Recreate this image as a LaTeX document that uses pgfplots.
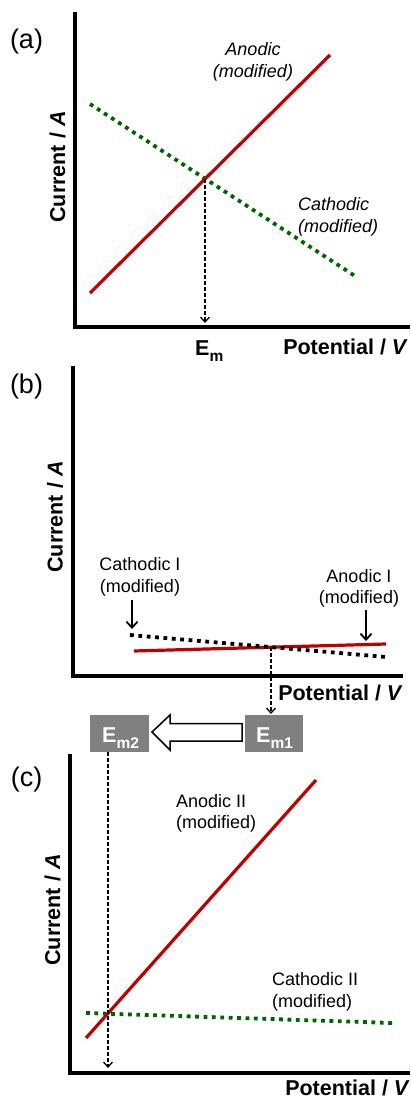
\documentclass[border=0pt]{standalone}
\usepackage{pgfplots}
\pgfplotsset{compat=1.18}
\usepackage{fontspec}
\setmainfont{Liberation Sans}
\usetikzlibrary{arrows.meta}
\definecolor{cred}{HTML}{C00000}
\definecolor{cgreen}{HTML}{006400}
\definecolor{boxgray}{HTML}{808080}
\newcommand\lab{\fontsize{18}{22}\selectfont}
\newcommand\boldlab{\fontsize{21.5}{26}\selectfont\bfseries}
\newcommand\pan{\fontsize{27}{30}\selectfont}
\newcommand\sub[1]{\raisebox{-0.3em}{\fontsize{15.5}{16}\selectfont #1}}
\tikzset{
  sqdots/.style={line width=3.8pt, dash pattern=on 3.8pt off 4.6pt},
  dropline/.style={line width=1.3pt, dash pattern=on 4pt off 2pt,
    -{Straight Barb[length=5pt,width=9pt,line width=1.3pt]}},
  callout/.style={line width=1.8pt, -{Straight Barb[length=6pt,width=11pt,line width=1.8pt]}},
}
\pgfplotsset{
  schem/.style={x=1pt, y=1pt, xmin=0, ymin=0, axis lines*=left,
    axis line style={line width=3.8pt, line cap=rect, -}, xtick=\empty, ytick=\empty,
    clip=false, anchor=origin},
}
\begin{document}
\begin{tikzpicture}
\path[use as bounding box] (0pt,0pt) rectangle (411pt,-1100pt);
% ---------------- (a)
\begin{axis}[schem, at={(75pt,-327pt)}, xmax=333, ymax=313]
  \addplot[cgreen, sqdots] coordinates {(15,223) (280,51)};
  \addplot[cred, line width=3.2pt] coordinates {(15,34) (255,272)};
  \draw[dropline] (axis cs:130,148) -- (axis cs:130,4);
\end{axis}
% ---------------- (b)
\begin{axis}[schem, at={(73pt,-676pt)}, xmax=328, ymax=308]
  \addplot[cred, line width=3.2pt] coordinates {(61,25) (313,32)};
  \addplot[black, sqdots] coordinates {(57,41) (313,19)};
  \draw[dropline] (axis cs:198,29) -- (axis cs:198,-38);
  \draw[callout] (axis cs:59,76) -- (axis cs:59,47);
  \draw[callout] (axis cs:293,66) -- (axis cs:293,35);
\end{axis}
% ---------------- (c)
\begin{axis}[schem, at={(70pt,-1073pt)}, xmax=338, ymax=317]
  \addplot[cgreen, sqdots] coordinates {(16,60) (323,50)};
  \addplot[cred, line width=3.2pt] coordinates {(16,35) (246,293)};
  \draw[dropline] (axis cs:38,321) -- (axis cs:38,5);
\end{axis}
% ---------------- boxes and hollow arrow
\fill[boxgray] (90pt,-715pt) rectangle (149pt,-752pt);
\fill[boxgray] (245pt,-715pt) rectangle (303pt,-752pt);
\node[anchor=base west, inner sep=0pt, text=white, font=\boldlab] at (102pt,-742pt) {E\sub{m2}};
\node[anchor=base west, inner sep=0pt, text=white, font=\boldlab] at (256pt,-742pt) {E\sub{m1}};
\draw[line width=1.5pt, fill=white, line join=miter]
  (152pt,-732pt) -- (170pt,-715pt) -- (170pt,-723.5pt) -- (242pt,-723.5pt)
  -- (242pt,-741pt) -- (170pt,-741pt) -- (170pt,-750pt) -- cycle;
% ---------------- texts (a)
\node[font=\pan, inner sep=0pt] at (26.5pt,-41.5pt) {(a)};
\node[font=\boldlab, rotate=90, inner sep=0pt] at (57.5pt,-167pt) {Current / \textit{A}};
\node[font=\boldlab, anchor=base east, inner sep=0pt] at (408pt,-354pt) {Potential / \textit{V}};
\node[font=\boldlab, anchor=base west, inner sep=0pt] at (195pt,-355pt) {E\sub{m}};
\node[font=\lab\itshape, anchor=base, inner sep=0pt] at (253pt,-55pt) {Anodic};
\node[font=\lab\itshape, anchor=base, inner sep=0pt] at (253pt,-77pt) {(modified)};
\node[font=\lab\itshape, anchor=base west, inner sep=0pt] at (298pt,-210pt) {Cathodic};
\node[font=\lab\itshape, anchor=base west, inner sep=0pt] at (298pt,-232pt) {(modified)};
% ---------------- texts (b)
\node[font=\pan, inner sep=0pt] at (26.5pt,-387pt) {(b)};
\node[font=\boldlab, rotate=90, inner sep=0pt] at (55pt,-517pt) {Current / \textit{A}};
\node[font=\boldlab, anchor=base east, inner sep=0pt] at (403pt,-700pt) {Potential / \textit{V}};
\node[font=\lab, anchor=base, inner sep=0pt] at (140pt,-570pt) {Cathodic I};
\node[font=\lab, anchor=base, inner sep=0pt] at (140pt,-592pt) {(modified)};
\node[font=\lab, anchor=base, inner sep=0pt] at (359pt,-582pt) {Anodic I};
\node[font=\lab, anchor=base, inner sep=0pt] at (359pt,-603pt) {(modified)};
% ---------------- texts (c)
\node[font=\pan, inner sep=0pt] at (26.5pt,-780pt) {(c)};
\node[font=\boldlab, rotate=90, inner sep=0pt] at (52.5pt,-910pt) {Current / \textit{A}};
\node[font=\boldlab, anchor=base east, inner sep=0pt] at (410pt,-1095pt) {Potential / \textit{V}};
\node[font=\lab, anchor=base west, inner sep=0pt] at (176pt,-807pt) {Anodic II};
\node[font=\lab, anchor=base west, inner sep=0pt] at (176pt,-828pt) {(modified)};
\node[font=\lab, anchor=base west, inner sep=0pt] at (272pt,-985pt) {Cathodic II};
\node[font=\lab, anchor=base west, inner sep=0pt] at (272pt,-1007pt) {(modified)};
\end{tikzpicture}
\end{document}
